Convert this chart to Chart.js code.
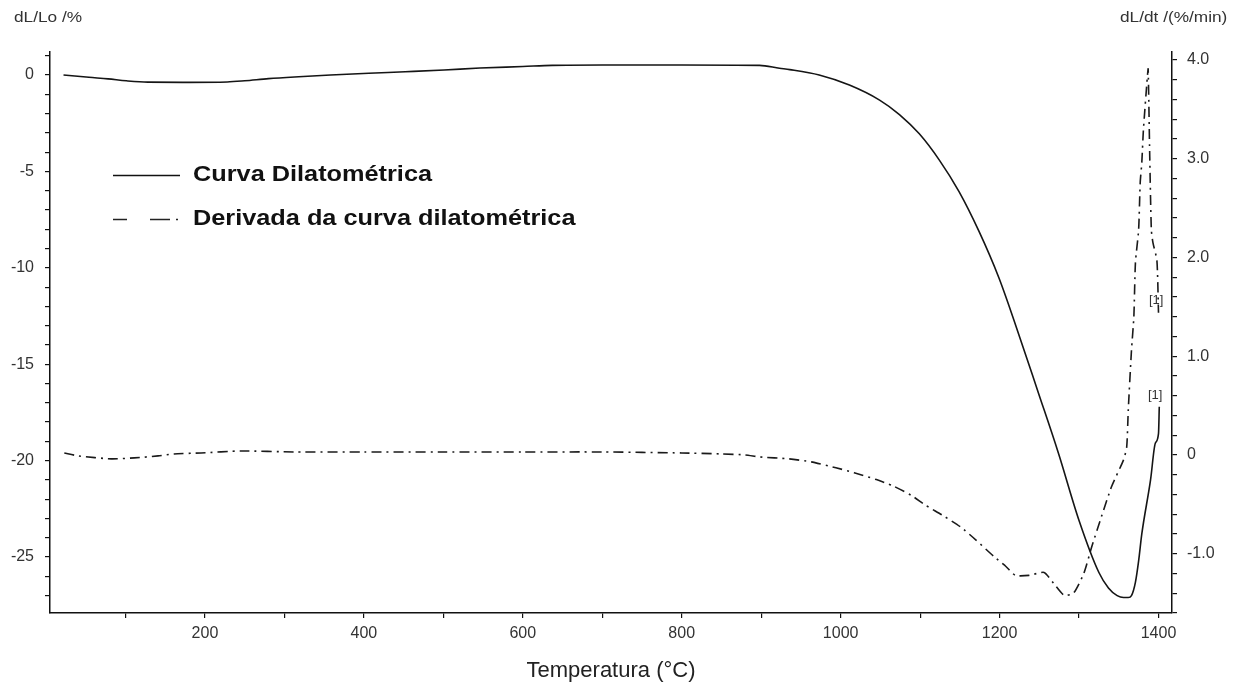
<!DOCTYPE html>
<html>
<head>
<meta charset="utf-8">
<script src="https://cdn.jsdelivr.net/npm/chart.js@4.4.1/dist/chart.umd.min.js"></script>
<style>
  html, body { margin:0; padding:0; background:#fff; }
  #wrap { position:relative; width:1234px; height:685px; overflow:hidden; }
  canvas { position:absolute; left:0; top:0; }
  .t { position:absolute; font-family:"Liberation Sans", Arial, sans-serif; color:#222; white-space:nowrap; transform-origin:left center; }
  .leg { font-weight:bold; font-size:22px; color:#111; transform:scaleX(1.15); }
  .ax { font-size:15px; color:#333; transform:scaleX(1.15); }
  .ann { font-size:13px; color:#333; }
</style>
</head>
<body>
<div id="wrap">
  <canvas id="c" width="1234" height="685"></canvas>
  <div class="t ax" style="left:14px; top:8px;">dL/Lo /%</div>
  <div class="t ax" style="left:1120px; top:8px;">dL/dt /(%/min)</div>
  <svg style="position:absolute;left:0;top:0" width="600" height="250">
    <line x1="113" y1="175.5" x2="180" y2="175.5" stroke="#111" stroke-width="1.5"/>
    <line x1="113" y1="219.5" x2="127" y2="219.5" stroke="#222" stroke-width="1.5"/>
    <line x1="150" y1="219.5" x2="170" y2="219.5" stroke="#222" stroke-width="1.5"/>
    <line x1="176" y1="219.5" x2="178" y2="219.5" stroke="#222" stroke-width="1.5"/>
  </svg>
  <div class="t leg" style="left:193px; top:161px;">Curva Dilatométrica</div>
  <div class="t leg" style="left:193px; top:205px;">Derivada da curva dilatométrica</div>
  <div class="t ann" style="left:1149px; top:292px;">[1]</div>
  <div class="t ann" style="left:1148px; top:387px;">[1]</div>
</div>
<script>
// Dilatometric curve (left axis, dL/Lo %)
const dilTemp = [22, 54, 78, 101, 128, 180, 228, 250, 280, 318, 358, 406, 452, 501, 546, 600, 637, 700, 800, 898, 923, 936, 973, 1011, 1049, 1074, 1099, 1124, 1149, 1174, 1199, 1218, 1249, 1274, 1300, 1325, 1337, 1348, 1356, 1362, 1366, 1371, 1375, 1379, 1390, 1396, 1400, 1401];
const dilVal  = [0, -0.12, -0.2, -0.3, -0.37, -0.38, -0.36, -0.3, -0.19, -0.09, 0, 0.09, 0.17, 0.26, 0.36, 0.44, 0.5, 0.52, 0.52, 0.5, 0.35, 0.28, 0, -0.52, -1.3, -2.05, -3.05, -4.4, -6.05, -8.1, -10.5, -12.7, -16.5, -19.6, -23.1, -25.8, -26.6, -27.0, -27.1, -27.1, -27.0, -26.3, -25.2, -23.8, -21.0, -19.1, -18.6, -17.2];

// Derivative curve (right axis, dL/dt %/min)
const derTemp = [23, 41, 82, 111, 141, 161, 195, 245, 312, 400, 500, 600, 700, 800, 850, 880, 898, 935, 963, 994, 1017, 1045, 1065, 1089, 1107, 1128, 1151, 1170, 1193, 1208, 1220, 1237, 1256, 1268, 1281, 1293, 1306, 1316, 1328, 1341, 1356, 1360, 1362, 1366, 1369, 1371, 1375, 1377, 1379, 1381, 1386, 1387, 1389, 1391, 1393, 1398, 1400];
const derVal  = [0.02, -0.01, -0.04, -0.03, -0.01, 0.01, 0.02, 0.04, 0.03, 0.03, 0.03, 0.03, 0.03, 0.02, 0.01, 0, -0.02, -0.04, -0.07, -0.13, -0.18, -0.25, -0.31, -0.41, -0.51, -0.61, -0.73, -0.86, -1.03, -1.13, -1.22, -1.22, -1.19, -1.3, -1.42, -1.4, -1.2, -0.93, -0.63, -0.32, -0.05, 0.08, 0.46, 1.06, 1.4, 1.95, 2.28, 2.76, 2.96, 3.29, 3.83, 3.91, 3.02, 2.28, 2.15, 1.97, 1.44];

// Axis ticks
const xTicks = [100, 200, 300, 400, 500, 600, 700, 800, 900, 1000, 1100, 1200, 1300, 1400];
const xLabels = [200, 400, 600, 800, 1000, 1200, 1400];
const yLeftTicks = [-27, -26, -25, -24, -23, -22, -21, -20, -19, -18, -17, -16, -15, -14, -13, -12, -11, -10, -9, -8, -7, -6, -5, -4, -3, -2, -1, 0, 1];
const yLeftLabels = [-25, -20, -15, -10, -5, 0];
const yRightTicks = [-1.6, -1.4, -1.2, -1.0, -0.8, -0.6, -0.4, -0.2, 0, 0.2, 0.4, 0.6, 0.8, 1.0, 1.2, 1.4, 1.6, 1.8, 2.0, 2.2, 2.4, 2.6, 2.8, 3.0, 3.2, 3.4, 3.6, 3.8, 4.0];
const yRightLabels = ["-1.0", "0", "1.0", "2.0", "3.0", "4.0"];

const dilData = dilTemp.map((t, i) => ({x: t, y: dilVal[i]}));
const derData = derTemp.map((t, i) => ({x: t, y: derVal[i]}));

const tickFont = {family: "'Liberation Sans', Arial, sans-serif", size: 16};
const axisGrid = {drawOnChartArea: false, drawTicks: true, tickLength: 5, color: '#111', lineWidth: 1.2};
const axisBorder = {display: true, color: '#111', width: 1.5};

new Chart(document.getElementById('c'), {
  type: 'line',
  data: {
    datasets: [
      {label: 'Curva Dilatométrica', data: dilData, yAxisID: 'yL', borderColor: '#151515', borderWidth: 1.6, pointRadius: 0, cubicInterpolationMode: 'monotone', fill: false},
      {label: 'Derivada da curva dilatométrica', data: derData, yAxisID: 'yR', borderColor: '#1a1a1a', borderWidth: 1.6, borderDash: [10, 5, 2, 5], pointRadius: 0, tension: 0.2, fill: false}
    ]
  },
  options: {
    responsive: false,
    animation: false,
    layout: {padding: {top: 52, left: 0, right: 0, bottom: 0}},
    plugins: {legend: {display: false}, tooltip: {enabled: false}},
    scales: {
      x: {
        type: 'linear', position: 'bottom', min: 5, max: 1417,
        afterBuildTicks: s => { s.ticks = xTicks.map(v => ({value: v})); },
        afterFit: s => { s.height = 72; },
        ticks: {font: tickFont, color: '#333', padding: 6, maxRotation: 0, autoSkip: false,
          callback: v => xLabels.includes(v) ? String(v) : ''},
        grid: axisGrid, border: axisBorder,
        title: {display: true, text: 'Temperatura (°C)', font: {family: "'Liberation Sans', Arial, sans-serif", size: 22}, color: '#222', padding: {top: 0, bottom: 1}}
      },
      yL: {
        type: 'linear', position: 'left', min: -27.9, max: 1.193,
        afterBuildTicks: s => { s.ticks = yLeftTicks.map(v => ({value: v})); },
        afterFit: s => { s.width = 50; },
        ticks: {font: tickFont, color: '#333', padding: 11, autoSkip: false,
          callback: v => yLeftLabels.includes(v) ? String(v) : ''},
        grid: axisGrid, border: axisBorder
      },
      yR: {
        type: 'linear', position: 'right', min: -1.601, max: 4.081,
        afterBuildTicks: s => { s.ticks = yRightTicks.map(v => ({value: v})); },
        afterFit: s => { s.width = 62; },
        ticks: {font: tickFont, color: '#333', padding: 10, autoSkip: false,
          callback: v => { const r = Math.round(v * 10) / 10; if (Math.abs(r - Math.round(r)) < 1e-6) { const n = Math.round(r); return n === 0 ? '0' : n.toFixed(1); } return ''; }},
        grid: axisGrid, border: axisBorder
      }
    }
  }
});
</script>
</body>
</html>
